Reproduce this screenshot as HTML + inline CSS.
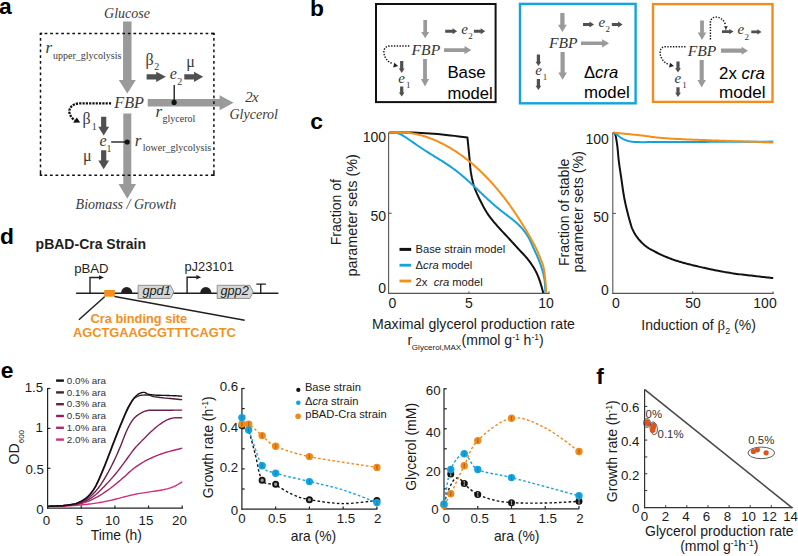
<!DOCTYPE html>
<html><head><meta charset="utf-8"><title>Figure</title>
<style>
html,body{margin:0;padding:0;background:#fff;}
body{width:798px;height:556px;overflow:hidden;}
svg{display:block;font-family:"Liberation Sans", sans-serif;}
</style></head><body>
<svg width="798" height="556" viewBox="0 0 798 556">
<rect width="798" height="556" fill="#fff"/>
<text x="-1" y="14.1" font-size="22.8" font-weight="bold" >a</text>
<text x="310" y="16.3" font-size="22.8" font-weight="bold" >b</text>
<text x="310.3" y="128.6" font-size="22.8" font-weight="bold" >c</text>
<text x="0" y="244.3" font-size="22.8" font-weight="bold" >d</text>
<text x="0.8" y="377.5" font-size="22.8" font-weight="bold" >e</text>
<text x="596.3" y="383.5" font-size="22.8" font-weight="bold" >f</text>
<polygon points="123.05,21.6 123.05,80 118.8,80 127.3,93.5 135.8,80 131.55,80 131.55,21.6" fill="#9a9a9a"/>
<polygon points="123.3,113.5 123.3,184.1 118.55,184.1 127.3,198.8 136.05,184.1 131.3,184.1 131.3,113.5" fill="#9a9a9a"/>
<polygon points="147.7,99.05 219.6,99.05 219.6,95.3 233.6,102.8 219.6,110.3 219.6,106.55 147.7,106.55" fill="#9a9a9a"/>
<path d="M40.5,33.4 H214" fill="none" stroke="#111" stroke-width="1.5" stroke-dasharray="2.75 2.8" stroke-dashoffset="1.45"/>
<path d="M40.5,175.3 H214" fill="none" stroke="#111" stroke-width="1.5" stroke-dasharray="2.75 2.8" stroke-dashoffset="1.65"/>
<path d="M40.5,33.4 V175.3" fill="none" stroke="#111" stroke-width="1.5" stroke-dasharray="2.6 3.15" stroke-dashoffset="1.1"/>
<path d="M213.9,33.4 V175.3" fill="none" stroke="#111" stroke-width="1.5" stroke-dasharray="2.6 3.15" stroke-dashoffset="1.05"/>
<path d="M39.75,33.4 H42.2 M40.5,32.65 V35 M213.9,32.65 V35 M211.5,33.4 H214.65 M39.75,175.3 H42.2 M40.5,173 V176.05 M211.5,175.3 H214.65 M213.9,173 V176.05" fill="none" stroke="#111" stroke-width="1.5"/>
<text x="104.1" y="17.9" font-size="14" font-family='"Liberation Serif", serif' fill="#3a3a3a" font-style="italic" >Glucose</text>
<text x="114.3" y="108.2" font-size="16.2" font-family='"Liberation Serif", serif' fill="#3a3a3a" font-style="italic" >FBP</text>
<text x="75.6" y="208.9" font-size="14" font-family='"Liberation Serif", serif' fill="#3a3a3a" font-style="italic" >Biomass / Growth</text>
<text x="245.3" y="102.2" font-size="14.8" font-family='"Liberation Serif", serif' fill="#3a3a3a" font-style="italic" letter-spacing="-0.6">2x</text>
<text x="229.5" y="118.5" font-size="14" font-family='"Liberation Serif", serif' fill="#3a3a3a" font-style="italic" >Glycerol</text>
<text x="45.6" y="53.4" font-size="17" font-family='"Liberation Serif", serif' fill="#3a3a3a" font-style="italic" >r</text>
<text x="53" y="59.1" font-size="10" font-family='"Liberation Serif", serif' fill="#3a3a3a" >upper_glycolysis</text>
<text x="155.4" y="116.7" font-size="17" font-family='"Liberation Serif", serif' fill="#3a3a3a" font-style="italic" >r</text>
<text x="162.6" y="122.3" font-size="10" font-family='"Liberation Serif", serif' fill="#3a3a3a" >glycerol</text>
<text x="134.7" y="145.8" font-size="17" font-family='"Liberation Serif", serif' fill="#3a3a3a" font-style="italic" >r</text>
<text x="142.8" y="150.8" font-size="10" font-family='"Liberation Serif", serif' fill="#3a3a3a" >lower_glycolysis</text>
<text x="145.6" y="64.6" font-size="16" font-family='"Liberation Serif", serif' fill="#3a3a3a" >&#946;</text>
<text x="154.3" y="69.7" font-size="10" font-family='"Liberation Serif", serif' fill="#3a3a3a" >2</text>
<polygon points="146.6,74.15 156.2,74.15 156.2,71.65 165.9,76.8 156.2,81.95 156.2,79.45 146.6,79.45" fill="#505050"/>
<text x="169.8" y="79" font-size="16" font-family='"Liberation Serif", serif' fill="#3a3a3a" font-style="italic" >e</text>
<text x="177.3" y="84.6" font-size="10" font-family='"Liberation Serif", serif' fill="#3a3a3a" >2</text>
<text x="186.3" y="66.7" font-size="16" font-family='"Liberation Serif", serif' fill="#3a3a3a" >&#956;</text>
<polygon points="184.3,74.15 194,74.15 194,71.65 203.2,76.8 194,81.95 194,79.45 184.3,79.45" fill="#505050"/>
<line x1="174.2" y1="85.1" x2="174.2" y2="102.2" stroke="#111" stroke-width="1.3" />
<circle cx="174.1" cy="102.4" r="2.6" fill="#111" stroke="none" stroke-width="0" />
<text x="82.4" y="124.4" font-size="16" font-family='"Liberation Serif", serif' fill="#3a3a3a" >&#946;</text>
<text x="91.8" y="129.5" font-size="10" font-family='"Liberation Serif", serif' fill="#3a3a3a" >1</text>
<polygon points="101.1,116.8 101.1,126.8 98.25,126.8 103.7,135.5 109.15,126.8 106.3,126.8 106.3,116.8" fill="#505050"/>
<text x="99.4" y="146.2" font-size="16" font-family='"Liberation Serif", serif' fill="#3a3a3a" font-style="italic" >e</text>
<text x="106.6" y="151.6" font-size="10" font-family='"Liberation Serif", serif' fill="#3a3a3a" >1</text>
<text x="83" y="160.5" font-size="16" font-family='"Liberation Serif", serif' fill="#3a3a3a" >&#956;</text>
<polygon points="101.1,150.2 101.1,160.6 98.25,160.6 103.7,169.3 109.15,160.6 106.3,160.6 106.3,150.2" fill="#505050"/>
<line x1="111.2" y1="142" x2="127" y2="142" stroke="#111" stroke-width="1.3" />
<circle cx="127.2" cy="142" r="2.6" fill="#111" stroke="none" stroke-width="0" />
<path d="M111.1,103.4 L79.5,103.4 C72,103.6 68.5,108.5 69.5,113 C70.3,116.5 72.5,118.8 74.8,120.2" fill="none" stroke="#111" stroke-width="2.3" stroke-dasharray="2.2 1.1"/>
<polygon points="80.2,122.6 73.2,122.8 76.8,117.6" fill="#111"/>
<rect x="376" y="4" width="119.6" height="98.1" fill="none" stroke="#111" stroke-width="2"/>
<rect x="520" y="3.9" width="115.6" height="99.4" fill="none" stroke="#12a4dc" stroke-width="2.4"/>
<rect x="653" y="4.1" width="119.5" height="97.8" fill="none" stroke="#f28c1e" stroke-width="2.4"/>
<polygon points="423.35,20 423.35,32 421.15,32 425.2,38.2 429.25,32 427.05,32 427.05,20" fill="#9a9a9a"/>
<text x="411.6" y="54.5" font-size="15.6" font-family='"Liberation Serif", serif' fill="#333333" font-style="italic" >FBP</text>
<path d="M409.3,45.9 L390,45.9 C385,46.3 383.6,49.5 383.9,52.5 C384.3,57 387,61.5 392.5,63.8" fill="none" stroke="#1a1a1a" stroke-width="1.45" stroke-dasharray="1.4 1.4"/>
<polygon points="398.2,65.9 393.2,67.6 394.2,62.8" fill="#222"/>
<polygon points="400.1,61 400.1,68.6 398.85,68.6 401.7,72.9 404.55,68.6 403.3,68.6 403.3,61" fill="#505050"/>
<text x="398.3" y="82.6" font-size="15" font-family='"Liberation Serif", serif' fill="#333333" font-style="italic" >e</text>
<text x="405.9" y="87.5" font-size="9" font-family='"Liberation Serif", serif' fill="#333333" >1</text>
<polygon points="400.1,86.4 400.1,92.6 398.85,92.6 401.7,96.6 404.55,92.6 403.3,92.6 403.3,86.4" fill="#505050"/>
<polygon points="423.1,59 423.1,79.1 420.95,79.1 425,86.6 429.05,79.1 426.9,79.1 426.9,59" fill="#9a9a9a"/>
<polygon points="444,48.2 464.5,48.2 464.5,46 471.4,50.1 464.5,54.2 464.5,52 444,52" fill="#9a9a9a"/>
<polygon points="445.2,29.8 452.6,29.8 452.6,28.3 457.1,31.3 452.6,34.3 452.6,32.8 445.2,32.8" fill="#505050"/>
<text x="461.2" y="33.8" font-size="15" font-family='"Liberation Serif", serif' fill="#333333" font-style="italic" >e</text>
<text x="468.2" y="39.2" font-size="9" font-family='"Liberation Serif", serif' fill="#333333" >2</text>
<polygon points="473.9,29.8 480.7,29.8 480.7,28.3 485.2,31.3 480.7,34.3 480.7,32.8 473.9,32.8" fill="#505050"/>
<text x="447.4" y="78" font-size="16.8" >Base</text>
<text x="447.4" y="98.5" font-size="16.6" >model</text>
<polygon points="560.25,12.9 560.25,24.8 557.95,24.8 562.4,32.1 566.85,24.8 564.55,24.8 564.55,12.9" fill="#9a9a9a"/>
<text x="548.9" y="47.5" font-size="15.6" font-family='"Liberation Serif", serif' fill="#333333" font-style="italic" >FBP</text>
<polygon points="583,23.1 589.5,23.1 589.5,21.6 594,24.6 589.5,27.6 589.5,26.1 583,26.1" fill="#505050"/>
<text x="598.6" y="27" font-size="15" font-family='"Liberation Serif", serif' fill="#333333" font-style="italic" >e</text>
<text x="605.6" y="32.4" font-size="9" font-family='"Liberation Serif", serif' fill="#333333" >2</text>
<polygon points="611.8,23.1 618.1,23.1 618.1,21.6 622.6,24.6 618.1,27.6 618.1,26.1 611.8,26.1" fill="#505050"/>
<polygon points="581,41.5 602.1,41.5 602.1,39.2 609.1,43.3 602.1,47.4 602.1,45.1 581,45.1" fill="#9a9a9a"/>
<polygon points="560.5,52 560.5,72.4 558.25,72.4 562.6,79.8 566.95,72.4 564.7,72.4 564.7,52" fill="#9a9a9a"/>
<polygon points="536.8,54.4 536.8,61.8 535.55,61.8 538.4,66.1 541.25,61.8 540,61.8 540,54.4" fill="#505050"/>
<text x="535.2" y="74.8" font-size="15" font-family='"Liberation Serif", serif' fill="#333333" font-style="italic" >e</text>
<text x="542.8" y="79.8" font-size="9" font-family='"Liberation Serif", serif' fill="#333333" >1</text>
<polygon points="536.8,79.1 536.8,85.8 535.55,85.8 538.4,90.1 541.25,85.8 540,85.8 540,79.1" fill="#505050"/>
<text x="584.0" y="78.2" font-size="16.6">&#916;<tspan font-style="italic">cra</tspan></text>
<text x="584" y="97.5" font-size="16.8" >model</text>
<polygon points="700.1,20.5 700.1,32.4 697.7,32.4 702,40 706.3,32.4 703.9,32.4 703.9,20.5" fill="#9a9a9a"/>
<text x="687.8" y="55.6" font-size="15.6" font-family='"Liberation Serif", serif' fill="#333333" font-style="italic" >FBP</text>
<path d="M685.5,46.7 L665,46.7 C660.8,47 659.8,50.5 660.2,54 C660.8,58.5 664,62.6 668.5,64.3" fill="none" stroke="#1a1a1a" stroke-width="1.45" stroke-dasharray="1.4 1.4"/>
<polygon points="674,65.9 669,67.5 670,62.8" fill="#222"/>
<path d="M710.4,39.5 L710.4,22.5 C710.6,18.5 713.5,17 716.6,17.1 C720.5,17.3 723.8,20 725.3,24.2" fill="none" stroke="#1a1a1a" stroke-width="1.45" stroke-dasharray="1.4 1.4"/>
<polygon points="723.9,26.2 727.9,26.2 725.9,29.2" fill="#222"/>
<line x1="725.9" y1="28.5" x2="725.9" y2="30.5" stroke="#333" stroke-width="0.9" />
<polygon points="722,30.3 729.3,30.3 729.3,29 733.6,31.6 729.3,34.2 729.3,32.9 722,32.9" fill="#505050"/>
<text x="737.6" y="34.3" font-size="15" font-family='"Liberation Serif", serif' fill="#333333" font-style="italic" >e</text>
<text x="744.6" y="40.2" font-size="9" font-family='"Liberation Serif", serif' fill="#333333" >2</text>
<polygon points="751.3,30.6 757.3,30.6 757.3,29.3 761.6,31.9 757.3,34.5 757.3,33.2 751.3,33.2" fill="#505050"/>
<polygon points="721,48.55 741.6,48.55 741.6,46.65 748,50.7 741.6,54.75 741.6,52.85 721,52.85" fill="#9a9a9a"/>
<polygon points="699.65,59.9 699.65,79.9 697.45,79.9 701.7,87.6 705.95,79.9 703.75,79.9 703.75,59.9" fill="#9a9a9a"/>
<polygon points="676.4,61.5 676.4,68.3 675.15,68.3 678,72.6 680.85,68.3 679.6,68.3 679.6,61.5" fill="#505050"/>
<text x="674.6" y="82.7" font-size="15" font-family='"Liberation Serif", serif' fill="#333333" font-style="italic" >e</text>
<text x="682.2" y="87.7" font-size="9" font-family='"Liberation Serif", serif' fill="#333333" >1</text>
<polygon points="676.4,87.2 676.4,92.7 675.15,92.7 678,97 680.85,92.7 679.6,92.7 679.6,87.2" fill="#505050"/>
<text x="719.1" y="78.6" font-size="16.8">2x <tspan font-style="italic">cra</tspan></text>
<text x="719.1" y="98.3" font-size="17.1" >model</text>
<line x1="388.6" y1="132.4" x2="388.6" y2="293.9" stroke="#555555" stroke-width="1.1" />
<line x1="388.1" y1="293.4" x2="549.4" y2="293.4" stroke="#555555" stroke-width="1.1" />
<line x1="388.6" y1="132.9" x2="391.6" y2="132.9" stroke="#555555" stroke-width="1.1" />
<line x1="388.6" y1="213.3" x2="391.6" y2="213.3" stroke="#555555" stroke-width="1.1" />
<line x1="468.9" y1="293.4" x2="468.9" y2="291.4" stroke="#555555" stroke-width="1.1" />
<line x1="549" y1="293.4" x2="549" y2="291.4" stroke="#555555" stroke-width="1.1" />
<text x="386" y="142.4" font-size="14" fill="#1a1a1a" text-anchor="end" >100</text>
<text x="386" y="220.5" font-size="14" fill="#1a1a1a" text-anchor="end" >50</text>
<text x="386" y="293.3" font-size="14" fill="#1a1a1a" text-anchor="end" >0</text>
<text x="392.3" y="307.7" font-size="14" fill="#1a1a1a" text-anchor="middle" >0</text>
<text x="468.8" y="307.6" font-size="14" fill="#1a1a1a" text-anchor="middle" >5</text>
<text x="546.1" y="307.6" font-size="14" fill="#1a1a1a" text-anchor="middle" >10</text>
<text transform="translate(341,212.2) rotate(-90)" font-size="14" fill="#1a1a1a" text-anchor="middle">Fraction of</text>
<text transform="translate(356.5,215.3) rotate(-90)" font-size="14.4" fill="#1a1a1a" text-anchor="middle">parameter sets (%)</text>
<text x="372" y="328.6" font-size="14.1" fill="#1a1a1a" >Maximal glycerol production rate</text>
<text x="407.6" y="345.2" font-size="14" fill="#1a1a1a" >r</text>
<text x="411.8" y="349.7" font-size="8.1" fill="#1a1a1a" >Glycerol,MAX</text>
<text x="461.6" y="345.2" font-size="14" fill="#1a1a1a">(mmol g<tspan font-size="8.5" dy="-5">-1</tspan><tspan dy="5"> h</tspan><tspan font-size="8.5" dy="-5">-1</tspan><tspan dy="5">)</tspan></text>
<path d="M389,132.6 L393.76,132.59 L398.54,132.56 L403.33,132.53 L408.09,132.53 L412.79,132.57 L417.4,132.7 L421.6,132.89 L425.72,133.14 L429.79,133.43 L433.84,133.76 L437.9,134.12 L442,134.5 L446.21,134.92 L450.44,135.39 L454.68,135.88 L458.92,136.39 L463.16,136.9 L467.4,137.4 L467.4,137.4 L467.55,138.82 L467.7,140.23 L467.85,141.63 L468,143.05 L468.15,144.5 L468.3,146 L468.48,147.74 L468.65,149.52 L468.83,151.34 L469.01,153.2 L469.2,155.12 L469.4,157.1 L469.63,159.6 L469.84,162.23 L470.06,164.95 L470.31,167.68 L470.62,170.38 L471,173 L471.42,175.4 L471.87,177.76 L472.37,180.09 L472.94,182.4 L473.58,184.7 L474.3,187 L475.15,189.37 L476.1,191.72 L477.13,194.06 L478.22,196.39 L479.35,198.7 L480.5,201 L481.68,203.32 L482.89,205.64 L484.14,207.94 L485.44,210.21 L486.79,212.44 L488.2,214.6 L489.66,216.66 L491.19,218.67 L492.78,220.64 L494.39,222.57 L496,224.45 L497.6,226.3 L499.06,227.96 L500.52,229.55 L501.97,231.1 L503.45,232.65 L504.95,234.24 L506.5,235.9 L508.34,237.91 L510.26,240 L512.21,242.14 L514.17,244.29 L516.11,246.43 L518,248.5 L519.75,250.38 L521.51,252.23 L523.24,254.06 L524.94,255.89 L526.57,257.73 L528.1,259.6 L529.45,261.37 L530.75,263.16 L532,264.96 L533.17,266.77 L534.28,268.59 L535.3,270.4 L536.15,272.04 L536.93,273.68 L537.64,275.31 L538.31,276.96 L538.96,278.65 L539.6,280.4 L540.28,282.39 L540.91,284.45 L541.52,286.55 L542.11,288.67 L542.7,290.8 L543.3,292.9" fill="none" stroke="#111111" stroke-width="2" stroke-linejoin="round"/>
<path d="M389,132.6 L389.75,132.59 L390.5,132.58 L391.25,132.57 L392,132.6 L392.75,132.67 L393.5,132.76 L394.25,132.87 L395,132.96 L395.75,133.01 L396.51,133.03 L397.26,133.09 L398,133.22 L398.76,133.47 L399.51,133.81 L400.26,134.19 L401,134.58 L401.76,134.98 L402.51,135.4 L403.26,135.84 L404,136.28 L404.75,136.75 L405.5,137.23 L406.25,137.71 L407,138.21 L407.75,138.71 L408.5,139.22 L409.25,139.74 L410,140.25 L410.75,140.78 L411.5,141.3 L412.25,141.83 L413,142.35 L413.75,142.88 L414.5,143.41 L415.25,143.93 L416,144.45 L416.75,144.97 L417.5,145.49 L418.25,146.01 L419,146.52 L419.75,147.03 L420.5,147.54 L421.25,148.04 L422,148.54 L422.75,149.03 L423.5,149.52 L424.25,150.01 L425,150.5 L425.75,150.98 L426.5,151.46 L427.25,151.93 L428,152.41 L428.75,152.87 L429.5,153.34 L430.25,153.81 L431,154.27 L431.75,154.73 L432.5,155.19 L433.25,155.65 L434,156.11 L434.75,156.57 L435.5,157.02 L436.25,157.48 L437,157.94 L437.75,158.4 L438.5,158.86 L439.25,159.32 L440,159.78 L440.75,160.25 L441.5,160.72 L442.25,161.19 L443,161.66 L443.75,162.14 L444.5,162.63 L445.25,163.11 L446,163.6 L446.75,164.1 L447.5,164.6 L448.25,165.11 L449,165.62 L449.75,166.13 L450.5,166.66 L451.25,167.18 L452,167.72 L452.75,168.26 L453.5,168.81 L454.25,169.36 L455,169.92 L455.75,170.49 L456.5,171.07 L457.25,171.65 L458,172.23 L458.75,172.83 L459.5,173.43 L460.25,174.04 L461,174.65 L461.75,175.28 L462.5,175.91 L463.25,176.54 L464,177.18 L464.75,177.83 L465.5,178.48 L466.25,179.14 L467,179.81 L467.75,180.48 L468.5,181.15 L469.25,181.83 L470,182.52 L470.75,183.21 L471.5,183.9 L472.25,184.6 L473,185.3 L473.75,186 L474.5,186.71 L475.25,187.42 L476,188.13 L476.75,188.84 L477.5,189.56 L478.25,190.27 L479,190.99 L479.75,191.71 L480.5,192.42 L481.25,193.14 L482,193.85 L482.75,194.56 L483.5,195.27 L484.25,195.98 L485,196.69 L485.75,197.39 L486.5,198.09 L487.25,198.79 L488,199.49 L488.75,200.17 L489.5,200.86 L490.25,201.54 L491,202.21 L491.75,202.88 L492.5,203.54 L493.25,204.2 L494,204.86 L494.75,205.5 L495.5,206.14 L496.25,206.77 L497,207.4 L497.75,208.02 L498.5,208.64 L499.25,209.25 L500,209.86 L500.75,210.46 L501.5,211.05 L502.25,211.64 L503,212.22 L503.75,212.8 L504.5,213.38 L505.25,213.95 L506,214.53 L506.75,215.1 L507.5,215.67 L508.25,216.24 L509,216.81 L509.75,217.38 L510.5,217.96 L511.25,218.54 L512,219.12 L512.75,219.72 L513.51,220.32 L514.25,220.93 L515,221.55 L515.76,222.2 L516.51,222.85 L517.26,223.52 L518,224.21 L518.76,224.93 L519.51,225.68 L520.26,226.44 L521,227.22 L521.76,228.07 L522.52,228.94 L523.27,229.84 L524,230.77 L524.77,231.79 L525.52,232.84 L526.27,233.93 L527,235.06 L527.76,236.29 L528.5,237.54 L529.24,238.87 L530,240.33 L531.08,242.55 L532.2,245.03 L533.32,247.57 L534.4,250 L535.34,252.05 L536.26,254.04 L537.15,256.01 L538,258 L538.8,259.99 L539.57,261.99 L540.3,263.99 L541,266 L541.66,267.99 L542.3,269.99 L542.88,271.99 L543.4,274 L543.84,275.96 L544.21,277.91 L544.53,279.9 L544.8,282 L545.03,284.62 L545.17,287.39 L545.28,290.21 L545.4,293" fill="none" stroke="#13a2dc" stroke-width="2" stroke-linejoin="round"/>
<path d="M389,132.6 L389.75,132.6 L390.5,132.6 L391.25,132.6 L392,132.6 L392.75,132.6 L393.5,132.6 L394.25,132.6 L395,132.6 L395.75,132.6 L396.5,132.6 L397.25,132.6 L398,132.6 L398.75,132.61 L399.5,132.62 L400.25,132.63 L401,132.65 L401.75,132.69 L402.5,132.74 L403.25,132.78 L404,132.8 L404.75,132.77 L405.5,132.7 L406.25,132.65 L407,132.64 L407.75,132.69 L408.5,132.79 L409.25,132.91 L410,133.02 L410.75,133.14 L411.5,133.26 L412.25,133.38 L413,133.52 L413.75,133.66 L414.5,133.8 L415.25,133.95 L416,134.11 L416.75,134.28 L417.5,134.45 L418.25,134.63 L419,134.81 L419.75,135 L420.5,135.2 L421.25,135.4 L422,135.61 L422.75,135.83 L423.5,136.05 L424.25,136.28 L425,136.51 L425.75,136.76 L426.5,137 L427.25,137.26 L428,137.52 L428.75,137.78 L429.5,138.05 L430.25,138.33 L431,138.62 L431.75,138.91 L432.5,139.2 L433.25,139.51 L434,139.81 L434.75,140.13 L435.5,140.45 L436.25,140.78 L437,141.11 L437.75,141.45 L438.5,141.8 L439.25,142.15 L440,142.51 L440.75,142.87 L441.5,143.24 L442.25,143.62 L443,144 L443.75,144.39 L444.5,144.78 L445.25,145.18 L446,145.59 L446.75,146 L447.5,146.42 L448.25,146.85 L449,147.28 L449.75,147.72 L450.5,148.16 L451.25,148.61 L452,149.07 L452.75,149.53 L453.5,150 L454.25,150.48 L455,150.96 L455.75,151.45 L456.5,151.94 L457.25,152.44 L458,152.95 L458.75,153.46 L459.5,153.98 L460.25,154.51 L461,155.04 L461.75,155.58 L462.5,156.13 L463.25,156.68 L464,157.23 L464.75,157.8 L465.5,158.37 L466.25,158.95 L467,159.54 L467.75,160.13 L468.5,160.73 L469.25,161.33 L470,161.95 L470.75,162.57 L471.5,163.19 L472.25,163.83 L473,164.46 L473.75,165.11 L474.5,165.77 L475.25,166.43 L476,167.09 L476.75,167.77 L477.5,168.45 L478.25,169.14 L479,169.84 L479.75,170.54 L480.5,171.25 L481.25,171.97 L482,172.7 L482.75,173.43 L483.5,174.17 L484.25,174.92 L485,175.67 L485.75,176.44 L486.5,177.21 L487.25,177.99 L488,178.77 L488.75,179.57 L489.5,180.38 L490.25,181.18 L491,182 L491.75,182.83 L492.5,183.66 L493.25,184.51 L494,185.35 L494.75,186.22 L495.5,187.08 L496.25,187.96 L497,188.84 L497.75,189.74 L498.5,190.64 L499.25,191.55 L500,192.46 L500.75,193.39 L501.5,194.33 L502.25,195.27 L503,196.22 L503.75,197.19 L504.5,198.16 L505.25,199.14 L506,200.13 L506.75,201.13 L507.5,202.14 L508.25,203.16 L509,204.18 L509.75,205.22 L510.5,206.27 L511.25,207.32 L512,208.39 L512.75,209.47 L513.5,210.55 L514.25,211.65 L515,212.75 L515.75,213.87 L516.5,215 L517.25,216.13 L518,217.27 L518.75,218.43 L519.5,219.6 L520.25,220.78 L521,221.96 L521.75,223.17 L522.5,224.38 L523.25,225.6 L524,226.83 L524.75,228.08 L525.5,229.33 L526.25,230.6 L527,231.87 L527.75,233.16 L528.51,234.47 L529.25,235.78 L530,237.09 L530.75,238.44 L531.51,239.79 L532.25,241.14 L533,242.51 L533.75,243.87 L534.5,245.23 L535.25,246.62 L536,248.12 L536.9,250.07 L537.81,252.16 L538.71,254.32 L539.6,256.5 L540.56,258.79 L541.52,261.12 L542.43,263.51 L543.2,266 L543.85,268.92 L544.35,272 L544.75,275.08 L545.1,278 L545.37,280.38 L545.59,282.69 L545.76,284.91 L545.9,287 L545.98,288.58 L546.03,290.07 L546.06,291.53 L546.1,293" fill="none" stroke="#f39019" stroke-width="2" stroke-linejoin="round"/>
<line x1="399.5" y1="249.4" x2="411.2" y2="249.4" stroke="#111111" stroke-width="3" />
<line x1="399.5" y1="265.2" x2="411.2" y2="265.2" stroke="#13a2dc" stroke-width="2.8" />
<line x1="399.5" y1="281" x2="411.2" y2="281" stroke="#f39019" stroke-width="2.8" />
<text x="415.6" y="252.6" font-size="11.2" fill="#1a1a1a" >Base strain model</text>
<text x="415.6" y="269.2" font-size="11.2" fill="#1a1a1a">&#916;<tspan font-style="italic">cra</tspan> model</text>
<text x="415.6" y="285.9" font-size="11.2" fill="#1a1a1a">2x&#160; <tspan font-style="italic">cra</tspan> model</text>
<line x1="612.8" y1="132.4" x2="612.8" y2="293.9" stroke="#555555" stroke-width="1.1" />
<line x1="612.3" y1="293.4" x2="773.6" y2="293.4" stroke="#555555" stroke-width="1.1" />
<line x1="612.8" y1="132.9" x2="615.8" y2="132.9" stroke="#555555" stroke-width="1.1" />
<line x1="612.8" y1="213.4" x2="615.8" y2="213.4" stroke="#555555" stroke-width="1.1" />
<line x1="692.6" y1="293.4" x2="692.6" y2="291.4" stroke="#555555" stroke-width="1.1" />
<line x1="773.1" y1="293.4" x2="773.1" y2="291.4" stroke="#555555" stroke-width="1.1" />
<text x="608.8" y="143.8" font-size="14" fill="#1a1a1a" text-anchor="end" >100</text>
<text x="608.8" y="221.8" font-size="14" fill="#1a1a1a" text-anchor="end" >50</text>
<text x="608.8" y="294.8" font-size="14" fill="#1a1a1a" text-anchor="end" >0</text>
<text x="616" y="308.2" font-size="14" fill="#1a1a1a" text-anchor="middle" >0</text>
<text x="693" y="308.2" font-size="14" fill="#1a1a1a" text-anchor="middle" >50</text>
<text x="765" y="308.2" font-size="14" fill="#1a1a1a" text-anchor="middle" >100</text>
<text transform="translate(568.8,212.4) rotate(-90)" font-size="14" fill="#1a1a1a" text-anchor="middle">Fraction of stable</text>
<text transform="translate(583.4,211.7) rotate(-90)" font-size="14.3" fill="#1a1a1a" text-anchor="middle">parameter sets (%)</text>
<text x="641.3" y="329.7" font-size="14" fill="#1a1a1a">Induction of <tspan font-family='"Liberation Serif", serif' font-size="15">&#946;</tspan><tspan font-size="9" dy="4">2</tspan><tspan dy="-4"> (%)</tspan></text>
<path d="M613.4,132.6 L613.52,132.67 L613.64,132.73 L613.76,132.78 L613.88,132.83 L614,132.88 L614.12,132.93 L614.24,132.99 L614.35,133.06 L614.47,133.14 L614.58,133.24 L614.69,133.36 L614.8,133.5 L615.06,133.97 L615.3,134.58 L615.53,135.32 L615.74,136.15 L615.94,137.08 L616.12,138.07 L616.3,139.12 L616.47,140.19 L616.63,141.29 L616.79,142.39 L616.94,143.46 L617.1,144.5 L617.28,145.76 L617.45,147.06 L617.59,148.41 L617.73,149.78 L617.86,151.17 L617.98,152.59 L618.1,154.01 L618.23,155.44 L618.35,156.87 L618.49,158.3 L618.64,159.71 L618.8,161.1 L618.97,162.47 L619.15,163.83 L619.34,165.18 L619.53,166.53 L619.73,167.87 L619.93,169.22 L620.13,170.57 L620.34,171.94 L620.55,173.32 L620.77,174.72 L620.98,176.15 L621.2,177.6 L621.45,179.3 L621.7,181.04 L621.94,182.81 L622.19,184.61 L622.44,186.43 L622.7,188.26 L622.97,190.1 L623.25,191.94 L623.54,193.78 L623.84,195.6 L624.16,197.41 L624.5,199.2 L624.86,200.97 L625.24,202.77 L625.64,204.6 L626.05,206.43 L626.48,208.25 L626.91,210.06 L627.35,211.85 L627.8,213.59 L628.23,215.27 L628.67,216.9 L629.09,218.44 L629.5,219.9 L629.77,220.87 L630.04,221.8 L630.29,222.7 L630.54,223.57 L630.79,224.41 L631.04,225.23 L631.29,226.03 L631.56,226.81 L631.84,227.59 L632.14,228.36 L632.46,229.13 L632.8,229.9 L633.15,230.63 L633.5,231.35 L633.87,232.06 L634.24,232.76 L634.63,233.44 L635.04,234.12 L635.46,234.8 L635.89,235.46 L636.34,236.13 L636.81,236.79 L637.29,237.44 L637.8,238.1 L638.38,238.83 L638.99,239.55 L639.61,240.28 L640.26,241 L640.93,241.72 L641.62,242.43 L642.32,243.13 L643.04,243.81 L643.78,244.49 L644.54,245.14 L645.31,245.78 L646.1,246.4 L646.96,247.03 L647.84,247.64 L648.75,248.24 L649.68,248.81 L650.64,249.36 L651.6,249.91 L652.58,250.44 L653.58,250.96 L654.58,251.48 L655.58,251.99 L656.59,252.49 L657.6,253 L658.66,253.53 L659.74,254.05 L660.83,254.56 L661.93,255.07 L663.04,255.57 L664.16,256.07 L665.28,256.55 L666.4,257.02 L667.53,257.48 L668.66,257.93 L669.78,258.37 L670.9,258.8 L671.99,259.2 L673.08,259.59 L674.17,259.97 L675.26,260.33 L676.35,260.69 L677.44,261.04 L678.54,261.37 L679.64,261.71 L680.74,262.03 L681.85,262.36 L682.97,262.68 L684.1,263 L685.28,263.33 L686.48,263.65 L687.69,263.97 L688.9,264.28 L690.12,264.58 L691.35,264.88 L692.57,265.18 L693.79,265.47 L695.01,265.76 L696.22,266.04 L697.42,266.32 L698.6,266.6 L699.7,266.86 L700.77,267.11 L701.82,267.36 L702.86,267.6 L703.89,267.84 L704.93,268.07 L705.98,268.31 L707.04,268.54 L708.13,268.78 L709.25,269.02 L710.4,269.26 L711.6,269.5 L713.21,269.82 L714.88,270.15 L716.61,270.49 L718.39,270.83 L720.21,271.18 L722.05,271.52 L723.92,271.86 L725.79,272.19 L727.67,272.51 L729.53,272.82 L731.38,273.12 L733.2,273.4 L735,273.66 L736.8,273.91 L738.61,274.15 L740.42,274.37 L742.24,274.59 L744.05,274.8 L745.85,275.01 L747.65,275.21 L749.44,275.4 L751.21,275.6 L752.96,275.8 L754.7,276 L756.29,276.19 L757.86,276.37 L759.42,276.55 L760.97,276.72 L762.51,276.9 L764.04,277.07 L765.56,277.24 L767.08,277.41 L768.61,277.58 L770.13,277.75 L771.66,277.93 L773.2,278.1" fill="none" stroke="#111111" stroke-width="2" stroke-linejoin="round"/>
<path d="M613.4,132.6 L613.66,132.73 L613.91,132.85 L614.17,132.98 L614.42,133.09 L614.67,133.21 L614.92,133.33 L615.18,133.46 L615.44,133.59 L615.7,133.73 L615.96,133.87 L616.23,134.03 L616.5,134.2 L616.86,134.45 L617.23,134.72 L617.59,135.02 L617.97,135.33 L618.34,135.66 L618.72,136 L619.11,136.33 L619.51,136.67 L619.92,137 L620.33,137.32 L620.76,137.62 L621.2,137.9 L621.7,138.2 L622.23,138.49 L622.77,138.78 L623.33,139.06 L623.9,139.33 L624.47,139.6 L625.05,139.85 L625.63,140.09 L626.21,140.32 L626.78,140.53 L627.35,140.72 L627.9,140.9 L628.37,141.04 L628.81,141.16 L629.24,141.27 L629.66,141.37 L630.08,141.46 L630.5,141.54 L630.94,141.61 L631.39,141.67 L631.88,141.73 L632.41,141.79 L632.98,141.84 L633.6,141.9 L635.1,142.01 L636.82,142.08 L638.71,142.12 L640.76,142.14 L642.95,142.15 L645.25,142.13 L647.63,142.11 L650.08,142.08 L652.56,142.05 L655.06,142.02 L657.55,142.01 L660,142 L663.01,142 L666.05,142 L669.14,141.99 L672.28,141.99 L675.47,141.98 L678.73,141.97 L682.06,141.96 L685.47,141.95 L688.96,141.94 L692.54,141.93 L696.22,141.91 L700,141.9 L705.33,141.88 L710.93,141.86 L716.76,141.84 L722.77,141.81 L728.94,141.79 L735.23,141.76 L741.59,141.73 L747.99,141.71 L754.39,141.68 L760.75,141.65 L767.03,141.63 L773.2,141.6" fill="none" stroke="#13a2dc" stroke-width="2" stroke-linejoin="round"/>
<path d="M613.4,132.6 L613.94,132.66 L614.46,132.71 L614.96,132.77 L615.46,132.82 L615.96,132.87 L616.47,132.93 L616.99,132.98 L617.52,133.04 L618.09,133.1 L618.68,133.16 L619.32,133.23 L620,133.3 L621.35,133.44 L622.86,133.58 L624.5,133.74 L626.25,133.9 L628.08,134.08 L629.97,134.26 L631.89,134.44 L633.82,134.63 L635.73,134.82 L637.6,135.01 L639.4,135.21 L641.1,135.4 L642.55,135.58 L643.97,135.76 L645.37,135.95 L646.75,136.15 L648.12,136.34 L649.47,136.54 L650.82,136.74 L652.17,136.93 L653.52,137.11 L654.87,137.29 L656.23,137.45 L657.6,137.6 L658.97,137.74 L660.32,137.86 L661.66,137.98 L662.99,138.08 L664.32,138.19 L665.66,138.28 L667.02,138.37 L668.39,138.46 L669.79,138.54 L671.22,138.63 L672.69,138.71 L674.2,138.8 L676.14,138.91 L678.15,139.01 L680.2,139.11 L682.31,139.2 L684.45,139.29 L686.62,139.38 L688.82,139.47 L691.05,139.56 L693.28,139.64 L695.52,139.73 L697.76,139.81 L700,139.9 L702.43,140 L704.92,140.09 L707.44,140.19 L709.98,140.29 L712.54,140.38 L715.11,140.48 L717.67,140.57 L720.22,140.66 L722.73,140.75 L725.21,140.84 L727.63,140.92 L730,141 L732.02,141.07 L734.01,141.13 L735.97,141.19 L737.91,141.24 L739.83,141.3 L741.73,141.35 L743.61,141.4 L745.48,141.46 L747.34,141.51 L749.2,141.57 L751.05,141.63 L752.9,141.7 L754.63,141.77 L756.35,141.84 L758.06,141.91 L759.76,141.98 L761.45,142.06 L763.13,142.14 L764.8,142.21 L766.48,142.29 L768.15,142.37 L769.83,142.45 L771.51,142.52 L773.2,142.6" fill="none" stroke="#f39019" stroke-width="2" stroke-linejoin="round"/>
<text x="35.6" y="248.5" font-size="14" fill="#231f20" font-weight="bold" >pBAD-Cra Strain</text>
<text x="74.2" y="272.8" font-size="13.2" fill="#231f20" >pBAD</text>
<text x="184.4" y="271" font-size="12.9" fill="#231f20" >pJ23101</text>
<line x1="76.1" y1="293.2" x2="278.4" y2="293.2" stroke="#231f20" stroke-width="1.5" />
<path d="M90,293.2 L90,277.5 L99.5,277.5" fill="none" stroke="#231f20" stroke-width="1.4" />
<polygon points="99,275.2 103.9,277.5 99,279.8" fill="#231f20"/>
<path d="M187.1,293.2 L187.1,277.3 L196.8,277.3" fill="none" stroke="#231f20" stroke-width="1.4" />
<polygon points="196.3,275 201.2,277.3 196.3,279.6" fill="#231f20"/>
<path d="M121.1,293 A5.6,5.9 0 0 1 132.3,293 Z" fill="#231f20"/>
<path d="M200.2,293 A5.6,5.9 0 0 1 211.4,293 Z" fill="#231f20"/>
<polygon points="138.1,285.3 170.6,285.3 173.8,291.9 170.6,298.5 138.1,298.5" fill="#d5d5d5" stroke="#8a8a8a" stroke-width="0.9"/>
<polygon points="217.2,285.3 249.8,285.3 253.2,291.9 249.8,298.5 217.2,298.5" fill="#d5d5d5" stroke="#8a8a8a" stroke-width="0.9"/>
<text x="142.4" y="295" font-size="12.8" fill="#231f20" font-style="italic" >gpd1</text>
<text x="220.4" y="295" font-size="12.8" fill="#231f20" font-style="italic" >gpp2</text>
<path d="M260.7,293.2 L260.7,284.1 M256.3,284.1 L265.9,284.1" fill="none" stroke="#231f20" stroke-width="1.4" />
<rect x="104.2" y="290" width="10.7" height="6.7" fill="#f5901c"/>
<line x1="104.6" y1="296.8" x2="78.9" y2="319.8" stroke="#231f20" stroke-width="1.5" />
<line x1="114.6" y1="296.6" x2="244.7" y2="320.2" stroke="#231f20" stroke-width="1.5" />
<text x="90.5" y="322.8" font-size="12.8" fill="#f5901c" font-weight="bold" >Cra binding site</text>
<text x="73" y="337.2" font-size="12.8" fill="#f5901c" font-weight="bold" >AGCTGAAGCGTTTCAGTC</text>
<line x1="47.6" y1="388" x2="47.6" y2="508.8" stroke="#222222" stroke-width="1.2" />
<line x1="47" y1="508.2" x2="182.8" y2="508.2" stroke="#222222" stroke-width="1.2" />
<line x1="47.6" y1="388.5" x2="50.4" y2="388.5" stroke="#222222" stroke-width="1.2" />
<line x1="47.6" y1="428.4" x2="50.4" y2="428.4" stroke="#222222" stroke-width="1.2" />
<line x1="47.6" y1="468.3" x2="50.4" y2="468.3" stroke="#222222" stroke-width="1.2" />
<line x1="81.25" y1="508.2" x2="81.25" y2="505.6" stroke="#222222" stroke-width="1.2" />
<line x1="114.9" y1="508.2" x2="114.9" y2="505.6" stroke="#222222" stroke-width="1.2" />
<line x1="148.55" y1="508.2" x2="148.55" y2="505.6" stroke="#222222" stroke-width="1.2" />
<line x1="182.2" y1="508.2" x2="182.2" y2="505.6" stroke="#222222" stroke-width="1.2" />
<text x="43.2" y="392.3" font-size="13.3" fill="#1a1a1a" text-anchor="end" >1.5</text>
<text x="43" y="432.3" font-size="13.3" fill="#1a1a1a" text-anchor="end" >1</text>
<text x="43.9" y="473.9" font-size="13.3" fill="#1a1a1a" text-anchor="end" >0.5</text>
<text x="43.6" y="514.2" font-size="13.3" fill="#1a1a1a" text-anchor="end" >0</text>
<text x="46.5" y="524.7" font-size="13.3" fill="#1a1a1a" text-anchor="middle" >0</text>
<text x="79.5" y="524.7" font-size="13.3" fill="#1a1a1a" text-anchor="middle" >5</text>
<text x="112.5" y="524.7" font-size="13.3" fill="#1a1a1a" text-anchor="middle" >10</text>
<text x="146" y="524.7" font-size="13.3" fill="#1a1a1a" text-anchor="middle" >15</text>
<text x="179.5" y="524.7" font-size="13.3" fill="#1a1a1a" text-anchor="middle" >20</text>
<text x="90.7" y="540.3" font-size="13.9" fill="#1a1a1a" >Time (h)</text>
<text transform="translate(19.4,464.6) rotate(-90)" font-size="14.2" fill="#1a1a1a">OD<tspan font-size="8" dy="4.6">600</tspan></text>
<path d="M47.6,506.44 L49.28,506.41 L50.97,506.37 L52.65,506.33 L54.33,506.3 L56.01,506.26 L57.7,506.22 L59.38,506.18 L61.06,506.13 L62.74,506.07 L64.43,506 L66.11,505.93 L67.79,505.86 L69.47,505.77 L71.16,505.68 L72.84,505.59 L74.52,505.49 L75.36,505.43 L76.2,505.37 L77.04,505.3 L77.89,505.23 L78.73,505.16 L79.57,505.09 L80.41,505.01 L81.25,504.93 L82.89,504.77 L84.53,504.6 L86.17,504.43 L87.81,504.25 L89.45,504.05 L91.09,503.85 L92.73,503.64 L94.37,503.41 L96.17,503.15 L97.97,502.86 L99.77,502.55 L101.57,502.22 L103.37,501.88 L105.18,501.52 L106.98,501.15 L108.78,500.78 L110.58,500.38 L112.38,499.96 L114.18,499.51 L115.98,499.04 L117.78,498.57 L119.58,498.1 L121.38,497.64 L123.18,497.19 L124.84,496.77 L126.49,496.35 L128.15,495.92 L129.81,495.5 L131.46,495.09 L133.12,494.7 L134.78,494.33 L136.44,494 L138.14,493.68 L139.83,493.39 L141.53,493.12 L143.23,492.86 L144.93,492.6 L146.63,492.35 L148.33,492.1 L150.03,491.84 L151.53,491.61 L153.03,491.4 L154.52,491.19 L156.02,490.97 L157.52,490.76 L159.02,490.52 L160.51,490.28 L162.01,490.01 L162.85,489.84 L163.69,489.67 L164.53,489.49 L165.38,489.29 L166.22,489.09 L167.06,488.88 L167.9,488.65 L168.74,488.41 L169.58,488.15 L170.42,487.88 L171.26,487.59 L172.11,487.28 L172.95,486.95 L173.79,486.6 L174.63,486.24 L175.47,485.86 L176.31,485.44 L177.15,484.98 L177.99,484.49 L178.84,483.97 L179.68,483.44 L180.52,482.9 L181.36,482.38 L182.2,481.87" fill="none" stroke="#d2307f" stroke-width="1.4" stroke-linejoin="round"/>
<path d="M47.6,506.44 L49.28,506.39 L50.97,506.33 L52.65,506.28 L54.33,506.23 L56.01,506.17 L57.7,506.11 L59.38,506.04 L61.06,505.97 L62.74,505.88 L64.43,505.77 L66.11,505.66 L67.79,505.53 L69.47,505.38 L71.16,505.22 L72.84,505.04 L74.52,504.85 L75.36,504.74 L76.2,504.61 L77.04,504.47 L77.89,504.32 L78.73,504.15 L79.57,503.97 L80.41,503.77 L81.25,503.57 L82.93,503.11 L84.62,502.57 L86.3,501.97 L87.98,501.3 L89.66,500.58 L91.34,499.82 L93.03,499.03 L94.71,498.22 L96.47,497.33 L98.23,496.36 L99.98,495.32 L101.74,494.22 L103.5,493.08 L105.26,491.89 L107.02,490.68 L108.78,489.45 L110.42,488.26 L112.07,487.01 L113.72,485.71 L115.37,484.38 L117.02,483.01 L118.67,481.63 L120.32,480.23 L121.97,478.83 L123.32,477.65 L124.68,476.42 L126.03,475.16 L127.38,473.89 L128.74,472.64 L130.09,471.42 L131.45,470.26 L132.8,469.18 L134.32,468.04 L135.85,466.93 L137.37,465.87 L138.89,464.84 L140.42,463.85 L141.94,462.9 L143.46,461.99 L144.98,461.12 L145.68,460.73 L146.38,460.36 L147.08,459.99 L147.78,459.64 L148.47,459.3 L149.17,458.96 L149.87,458.64 L150.57,458.32 L152.44,457.5 L154.32,456.69 L156.2,455.91 L158.07,455.16 L159.95,454.44 L161.82,453.75 L163.7,453.11 L165.58,452.5 L167.65,451.88 L169.73,451.3 L171.81,450.76 L173.89,450.24 L175.97,449.73 L178.04,449.23 L180.12,448.72 L182.2,448.19" fill="none" stroke="#b0286d" stroke-width="1.4" stroke-linejoin="round"/>
<path d="M47.6,506.44 L49.28,506.37 L50.97,506.3 L52.65,506.23 L54.33,506.16 L56.01,506.08 L57.7,506 L59.38,505.91 L61.06,505.81 L62.74,505.69 L64.43,505.55 L66.11,505.4 L67.79,505.24 L69.47,505.05 L71.16,504.84 L72.84,504.62 L74.52,504.37 L75.36,504.23 L76.2,504.07 L77.04,503.9 L77.89,503.7 L78.73,503.49 L79.57,503.27 L80.41,503.03 L81.25,502.77 L82.09,502.5 L82.93,502.19 L83.77,501.85 L84.62,501.48 L85.46,501.09 L86.3,500.68 L87.14,500.26 L87.98,499.82 L88.82,499.36 L89.66,498.88 L90.5,498.37 L91.34,497.83 L92.19,497.26 L93.03,496.68 L93.87,496.06 L94.71,495.43 L95.87,494.5 L97.03,493.5 L98.19,492.44 L99.35,491.33 L100.51,490.19 L101.68,489.02 L102.84,487.84 L104,486.65 L105.36,485.26 L106.72,483.84 L108.09,482.39 L109.45,480.91 L110.81,479.4 L112.17,477.86 L113.54,476.29 L114.9,474.68 L116.13,473.19 L117.36,471.65 L118.58,470.07 L119.81,468.47 L121.04,466.84 L122.27,465.2 L123.5,463.55 L124.73,461.92 L125.96,460.24 L127.2,458.52 L128.44,456.78 L129.67,455.03 L130.91,453.3 L132.15,451.63 L133.38,450.02 L134.62,448.51 L135.91,447.02 L137.21,445.61 L138.51,444.24 L139.8,442.92 L141.1,441.62 L142.39,440.34 L143.69,439.05 L144.98,437.74 L145.6,437.11 L146.21,436.47 L146.83,435.84 L147.44,435.21 L148.05,434.58 L148.67,433.97 L149.28,433.37 L149.9,432.79 L151.18,431.6 L152.47,430.41 L153.76,429.25 L155.04,428.12 L156.33,427.02 L157.62,425.98 L158.91,425 L160.19,424.09 L161.26,423.37 L162.33,422.65 L163.4,421.95 L164.47,421.28 L165.53,420.66 L166.6,420.11 L167.67,419.62 L168.74,419.22 L169.5,418.97 L170.25,418.73 L171.01,418.49 L171.77,418.27 L172.53,418.09 L173.28,417.94 L174.04,417.83 L174.8,417.79 L175.72,417.77 L176.65,417.76 L177.57,417.75 L178.5,417.74 L179.42,417.73 L180.35,417.72 L181.27,417.72 L182.2,417.71" fill="none" stroke="#8c2259" stroke-width="1.4" stroke-linejoin="round"/>
<path d="M47.6,506.44 L49.28,506.37 L50.97,506.3 L52.65,506.23 L54.33,506.16 L56.01,506.09 L57.7,506 L59.38,505.91 L61.06,505.81 L62.74,505.68 L64.43,505.54 L66.11,505.39 L67.79,505.2 L69.47,505 L71.16,504.77 L72.84,504.5 L74.52,504.21 L75.36,504.03 L76.2,503.82 L77.04,503.57 L77.89,503.29 L78.73,502.98 L79.57,502.66 L80.41,502.32 L81.25,501.98 L82.09,501.61 L82.93,501.21 L83.77,500.78 L84.62,500.33 L85.46,499.84 L86.3,499.33 L87.14,498.79 L87.98,498.22 L88.82,497.62 L89.66,496.97 L90.5,496.27 L91.34,495.54 L92.19,494.76 L93.03,493.95 L93.87,493.11 L94.71,492.24 L95.43,491.47 L96.14,490.66 L96.86,489.8 L97.57,488.91 L98.29,487.99 L99,487.04 L99.72,486.06 L100.43,485.06 L101.23,483.9 L102.03,482.69 L102.83,481.44 L103.63,480.15 L104.43,478.82 L105.23,477.46 L106.02,476.08 L106.82,474.68 L107.71,473.11 L108.59,471.51 L109.47,469.86 L110.36,468.18 L111.24,466.47 L112.12,464.72 L113.01,462.93 L113.89,461.12 L114.69,459.44 L115.49,457.72 L116.29,455.96 L117.09,454.17 L117.89,452.35 L118.69,450.51 L119.48,448.64 L120.28,446.75 L121.04,444.91 L121.8,442.99 L122.56,441.01 L123.31,439.03 L124.07,437.06 L124.83,435.14 L125.58,433.31 L126.34,431.59 L126.93,430.31 L127.52,429.05 L128.11,427.82 L128.7,426.63 L129.29,425.48 L129.87,424.39 L130.46,423.36 L131.05,422.41 L131.56,421.65 L132.06,420.91 L132.57,420.2 L133.07,419.52 L133.58,418.88 L134.08,418.28 L134.59,417.73 L135.09,417.23 L135.7,416.67 L136.32,416.15 L136.93,415.67 L137.55,415.22 L138.16,414.79 L138.77,414.39 L139.39,414.01 L140,413.64 L140.57,413.31 L141.13,412.98 L141.69,412.66 L142.26,412.36 L142.82,412.08 L143.38,411.82 L143.95,411.6 L144.51,411.4 L145.19,411.19 L145.86,410.98 L146.53,410.78 L147.2,410.6 L147.88,410.44 L148.55,410.31 L149.22,410.23 L149.9,410.21 L151.41,410.21 L152.92,410.21 L154.44,410.21 L155.95,410.21 L157.47,410.21 L158.98,410.21 L160.5,410.21 L162.01,410.21 L164.53,410.2 L167.06,410.2 L169.58,410.19 L172.11,410.18 L174.63,410.16 L177.15,410.15 L179.68,410.14 L182.2,410.13" fill="none" stroke="#6b2049" stroke-width="1.4" stroke-linejoin="round"/>
<path d="M47.6,506.44 L49.28,506.37 L50.97,506.3 L52.65,506.23 L54.33,506.16 L56.01,506.09 L57.7,506.01 L59.38,505.92 L61.06,505.81 L62.74,505.68 L64.43,505.52 L66.11,505.34 L67.79,505.13 L69.47,504.89 L71.16,504.62 L72.84,504.31 L74.52,503.97 L75.36,503.76 L76.2,503.5 L77.04,503.2 L77.89,502.86 L78.73,502.49 L79.57,502.09 L80.41,501.68 L81.25,501.26 L82.09,500.81 L82.93,500.33 L83.77,499.82 L84.62,499.26 L85.46,498.67 L86.3,498.03 L87.14,497.35 L87.98,496.63 L88.82,495.84 L89.66,494.97 L90.5,494.02 L91.34,493 L92.19,491.91 L93.03,490.75 L93.87,489.53 L94.71,488.25 L95.55,486.86 L96.39,485.31 L97.23,483.64 L98.08,481.86 L98.92,480.01 L99.76,478.12 L100.6,476.2 L101.44,474.28 L102.28,472.34 L103.12,470.33 L103.96,468.26 L104.81,466.15 L105.65,464 L106.49,461.84 L107.33,459.68 L108.17,457.53 L109.01,455.37 L109.85,453.18 L110.69,450.97 L111.54,448.75 L112.38,446.53 L113.22,444.32 L114.06,442.13 L114.9,439.97 L115.74,437.83 L116.58,435.69 L117.42,433.56 L118.27,431.44 L119.11,429.34 L119.95,427.27 L120.79,425.22 L121.63,423.21 L122.47,421.21 L123.31,419.18 L124.15,417.17 L125,415.18 L125.84,413.25 L126.68,411.41 L127.52,409.66 L128.36,408.05 L129.2,406.48 L130.04,404.89 L130.88,403.33 L131.73,401.85 L132.57,400.49 L133.41,399.31 L134.25,398.36 L135.09,397.68 L135.85,397.22 L136.6,396.8 L137.36,396.42 L138.12,396.08 L138.88,395.79 L139.63,395.56 L140.39,395.39 L141.15,395.28 L141.9,395.22 L142.66,395.15 L143.42,395.1 L144.18,395.05 L144.93,395.02 L145.69,394.99 L146.45,394.97 L147.2,394.96 L148.05,395.02 L148.89,395.17 L149.73,395.39 L150.57,395.66 L151.41,395.94 L152.25,396.22 L153.09,396.46 L153.93,396.64 L155.11,396.83 L156.29,397 L157.47,397.16 L158.65,397.31 L159.82,397.45 L161,397.58 L162.18,397.71 L163.36,397.84 L165.71,398.09 L168.07,398.33 L170.42,398.56 L172.78,398.79 L175.13,399.01 L177.49,399.23 L179.84,399.45 L182.2,399.67" fill="none" stroke="#4a1f37" stroke-width="1.4" stroke-linejoin="round"/>
<path d="M47.6,506.44 L49.28,506.37 L50.97,506.3 L52.65,506.23 L54.33,506.17 L56.01,506.09 L57.7,506.01 L59.38,505.92 L61.06,505.81 L62.74,505.67 L64.43,505.5 L66.11,505.31 L67.79,505.08 L69.47,504.81 L71.16,504.51 L72.84,504.18 L74.52,503.81 L75.36,503.59 L76.2,503.32 L77.04,503.01 L77.89,502.66 L78.73,502.28 L79.57,501.88 L80.41,501.45 L81.25,501.02 L82.09,500.56 L82.93,500.06 L83.77,499.53 L84.62,498.96 L85.46,498.34 L86.3,497.68 L87.14,496.98 L87.98,496.23 L88.82,495.41 L89.66,494.5 L90.5,493.5 L91.34,492.43 L92.19,491.28 L93.03,490.07 L93.87,488.79 L94.71,487.45 L95.55,486 L96.39,484.4 L97.23,482.67 L98.08,480.84 L98.92,478.94 L99.76,477 L100.6,475.04 L101.44,473.09 L102.28,471.12 L103.12,469.1 L103.96,467.03 L104.81,464.92 L105.65,462.78 L106.49,460.63 L107.33,458.48 L108.17,456.33 L109.01,454.17 L109.85,451.98 L110.69,449.77 L111.54,447.55 L112.38,445.33 L113.22,443.12 L114.06,440.94 L114.9,438.77 L115.74,436.63 L116.58,434.49 L117.42,432.36 L118.27,430.24 L119.11,428.14 L119.95,426.07 L120.79,424.03 L121.63,422.02 L122.47,420.01 L123.31,417.97 L124.15,415.94 L125,413.95 L125.84,412.01 L126.68,410.17 L127.52,408.44 L128.36,406.85 L129.2,405.36 L130.04,403.91 L130.88,402.52 L131.73,401.19 L132.57,399.95 L133.41,398.81 L134.25,397.78 L135.09,396.88 L135.68,396.3 L136.27,395.74 L136.86,395.21 L137.45,394.71 L138.03,394.26 L138.62,393.87 L139.21,393.54 L139.8,393.29 L140.31,393.11 L140.81,392.94 L141.32,392.77 L141.82,392.63 L142.32,392.51 L142.83,392.41 L143.33,392.35 L143.84,392.33 L144.43,392.4 L145.02,392.58 L145.61,392.85 L146.19,393.17 L146.78,393.5 L147.37,393.81 L147.96,394.07 L148.55,394.25 L149.39,394.41 L150.23,394.56 L151.07,394.69 L151.92,394.81 L152.76,394.91 L153.6,395 L154.44,395.07 L155.28,395.12 L156.96,395.2 L158.65,395.26 L160.33,395.31 L162.01,395.35 L163.69,395.39 L165.38,395.42 L167.06,395.47 L168.74,395.52 L170.42,395.59 L172.11,395.66 L173.79,395.74 L175.47,395.82 L177.15,395.91 L178.84,395.99 L180.52,396.08 L182.2,396.16" fill="none" stroke="#111111" stroke-width="1.4" stroke-linejoin="round"/>
<line x1="56.1" y1="380.6" x2="63.9" y2="380.6" stroke="#111111" stroke-width="2.4" />
<text x="66.8" y="383.75" font-size="9.8" fill="#333" >0.0% ara</text>
<line x1="56.1" y1="392.4" x2="63.9" y2="392.4" stroke="#4a1f37" stroke-width="2.4" />
<text x="66.8" y="395.55" font-size="9.8" fill="#333" >0.1% ara</text>
<line x1="56.1" y1="404.2" x2="63.9" y2="404.2" stroke="#6b2049" stroke-width="2.4" />
<text x="66.8" y="407.35" font-size="9.8" fill="#333" >0.3% ara</text>
<line x1="56.1" y1="416" x2="63.9" y2="416" stroke="#8c2259" stroke-width="2.4" />
<text x="66.8" y="419.15" font-size="9.8" fill="#333" >0.5% ara</text>
<line x1="56.1" y1="427.8" x2="63.9" y2="427.8" stroke="#b0286d" stroke-width="2.4" />
<text x="66.8" y="430.95" font-size="9.8" fill="#333" >1.0% ara</text>
<line x1="56.1" y1="439.6" x2="63.9" y2="439.6" stroke="#d2307f" stroke-width="2.4" />
<text x="66.8" y="442.75" font-size="9.8" fill="#333" >2.0% ara</text>
<line x1="241.9" y1="388" x2="241.9" y2="509.7" stroke="#222222" stroke-width="1.2" />
<line x1="241.3" y1="509.1" x2="377.5" y2="509.1" stroke="#222222" stroke-width="1.2" />
<line x1="241.9" y1="489" x2="244.7" y2="489" stroke="#222222" stroke-width="1.2" />
<line x1="241.9" y1="468.9" x2="244.7" y2="468.9" stroke="#222222" stroke-width="1.2" />
<line x1="241.9" y1="448.8" x2="244.7" y2="448.8" stroke="#222222" stroke-width="1.2" />
<line x1="241.9" y1="428.7" x2="244.7" y2="428.7" stroke="#222222" stroke-width="1.2" />
<line x1="241.9" y1="408.6" x2="244.7" y2="408.6" stroke="#222222" stroke-width="1.2" />
<line x1="241.9" y1="388.5" x2="244.7" y2="388.5" stroke="#222222" stroke-width="1.2" />
<line x1="275.65" y1="509.1" x2="275.65" y2="506.4" stroke="#222222" stroke-width="1.2" />
<line x1="309.4" y1="509.1" x2="309.4" y2="506.4" stroke="#222222" stroke-width="1.2" />
<line x1="343.15" y1="509.1" x2="343.15" y2="506.4" stroke="#222222" stroke-width="1.2" />
<line x1="376.9" y1="509.1" x2="376.9" y2="506.4" stroke="#222222" stroke-width="1.2" />
<text x="238.2" y="391.4" font-size="13.3" fill="#1a1a1a" text-anchor="end" >0.6</text>
<text x="238.2" y="431.8" font-size="13.3" fill="#1a1a1a" text-anchor="end" >0.4</text>
<text x="238.2" y="472.2" font-size="13.3" fill="#1a1a1a" text-anchor="end" >0.2</text>
<text x="238.2" y="515.4" font-size="13.3" fill="#1a1a1a" text-anchor="end" >0</text>
<text x="241.9" y="523.4" font-size="13.3" fill="#1a1a1a" text-anchor="middle" >0</text>
<text x="277.2" y="523.4" font-size="13.3" fill="#1a1a1a" text-anchor="middle" >0.5</text>
<text x="309.3" y="523.4" font-size="13.3" fill="#1a1a1a" text-anchor="middle" >1</text>
<text x="345.9" y="523.4" font-size="13.3" fill="#1a1a1a" text-anchor="middle" >1.5</text>
<text x="377.8" y="523.4" font-size="13.3" fill="#1a1a1a" text-anchor="middle" >2</text>
<text x="290.7" y="540.9" font-size="13.9" fill="#1a1a1a" >ara (%)</text>
<text transform="translate(213.4,447.3) rotate(-90)" font-size="14" fill="#1a1a1a" text-anchor="middle">Growth rate (h<tspan font-size="8.5" dy="-5">-1</tspan><tspan dy="5">)</tspan></text>
<path d="M241.9,425.6 C243.03,426.58 246.4,426.6 248.65,431.5 C250.9,436.4 253.15,446.87 255.4,455 C257.65,463.13 258.77,475.27 262.15,480.3 C265.52,485.33 270.59,482.83 275.65,485.2 C280.71,487.57 286.9,492.1 292.52,494.5 C298.15,496.9 300.96,498.08 309.4,499.6 C317.84,501.12 331.9,503.47 343.15,503.6 C354.4,503.73 371.27,500.93 376.9,500.4" fill="none" stroke="#111111" stroke-width="1.4" stroke-dasharray="2.6 2.2"/>
<path d="M241.9,424.1 C243.03,424.1 245.28,422.18 248.65,424.1 C252.03,426.02 257.65,431.92 262.15,435.6 C266.65,439.28 267.77,442.7 275.65,446.2 C283.52,449.7 292.52,453.07 309.4,456.6 C326.27,460.13 365.65,465.6 376.9,467.4" fill="none" stroke="#ef8a1d" stroke-width="1.4" stroke-dasharray="2.6 2.2"/>
<path d="M241.9,417.6 C243.03,419.65 245.28,421.9 248.65,429.9 C252.03,437.9 257.65,458.38 262.15,465.6 C266.65,472.82 267.77,470.55 275.65,473.2 C283.52,475.85 298.15,478.7 309.4,481.5 C320.65,484.3 331.9,486.48 343.15,490 C354.4,493.52 371.27,500.5 376.9,502.6" fill="none" stroke="#16a3dc" stroke-width="1.4" stroke-dasharray="2.6 2.2"/>
<circle cx="241.9" cy="425.6" r="2.6" fill="#9a9a9a" stroke="#111111" stroke-width="1.8" />
<circle cx="262.15" cy="480.3" r="2.6" fill="#9a9a9a" stroke="#111111" stroke-width="1.8" />
<circle cx="275.65" cy="484.3" r="2.6" fill="#9a9a9a" stroke="#111111" stroke-width="1.8" />
<circle cx="309.4" cy="499.8" r="2.6" fill="#9a9a9a" stroke="#111111" stroke-width="1.8" />
<circle cx="376.9" cy="500.4" r="2.6" fill="#9a9a9a" stroke="#111111" stroke-width="1.8" />
<circle cx="241.9" cy="424.1" r="3.7" fill="#ef8a1d" stroke="none" stroke-width="0" />
<rect x="241.3" y="421.9" width="1.2" height="4.4" fill="#8a4a10" opacity="0.6"/>
<circle cx="248.65" cy="424.1" r="3.7" fill="#ef8a1d" stroke="none" stroke-width="0" />
<rect x="248.05" y="421.9" width="1.2" height="4.4" fill="#8a4a10" opacity="0.6"/>
<circle cx="262.15" cy="435.6" r="3.7" fill="#ef8a1d" stroke="none" stroke-width="0" />
<rect x="261.55" y="433.4" width="1.2" height="4.4" fill="#8a4a10" opacity="0.6"/>
<circle cx="275.65" cy="446.3" r="3.7" fill="#ef8a1d" stroke="none" stroke-width="0" />
<rect x="275.05" y="444.1" width="1.2" height="4.4" fill="#8a4a10" opacity="0.6"/>
<circle cx="309.4" cy="456.6" r="3.7" fill="#ef8a1d" stroke="none" stroke-width="0" />
<rect x="308.8" y="454.4" width="1.2" height="4.4" fill="#8a4a10" opacity="0.6"/>
<circle cx="376.9" cy="467.4" r="3.7" fill="#ef8a1d" stroke="none" stroke-width="0" />
<rect x="376.3" y="465.2" width="1.2" height="4.4" fill="#8a4a10" opacity="0.6"/>
<circle cx="241.9" cy="417.6" r="3.7" fill="#16a3dc" stroke="none" stroke-width="0" />
<rect x="241.3" y="415.4" width="1.2" height="4.4" fill="#0a6a9a" opacity="0.45"/>
<circle cx="248.65" cy="429.9" r="3.7" fill="#16a3dc" stroke="none" stroke-width="0" />
<rect x="248.05" y="427.7" width="1.2" height="4.4" fill="#0a6a9a" opacity="0.45"/>
<circle cx="262.15" cy="465.7" r="3.7" fill="#16a3dc" stroke="none" stroke-width="0" />
<rect x="261.55" y="463.5" width="1.2" height="4.4" fill="#0a6a9a" opacity="0.45"/>
<circle cx="275.65" cy="473.3" r="3.7" fill="#16a3dc" stroke="none" stroke-width="0" />
<rect x="275.05" y="471.1" width="1.2" height="4.4" fill="#0a6a9a" opacity="0.45"/>
<circle cx="309.4" cy="481.6" r="3.7" fill="#16a3dc" stroke="none" stroke-width="0" />
<rect x="308.8" y="479.4" width="1.2" height="4.4" fill="#0a6a9a" opacity="0.45"/>
<circle cx="376.9" cy="502.6" r="3.7" fill="#16a3dc" stroke="none" stroke-width="0" />
<rect x="376.3" y="500.4" width="1.2" height="4.4" fill="#0a6a9a" opacity="0.45"/>
<circle cx="298.3" cy="389.9" r="2.1" fill="#111111" stroke="none" stroke-width="0" />
<circle cx="298.3" cy="402.8" r="2.3" fill="#16a3dc" stroke="none" stroke-width="0" />
<circle cx="298.1" cy="416.2" r="2.8" fill="#ef8a1d" stroke="none" stroke-width="0" />
<text x="304.9" y="391.3" font-size="11.2" fill="#1a1a1a" >Base strain</text>
<text x="304.9" y="404.8" font-size="11.2" fill="#1a1a1a">&#916;<tspan font-style="italic">cra</tspan> strain</text>
<text x="305.2" y="418.3" font-size="11.2" fill="#1a1a1a" >pBAD-Cra strain</text>
<line x1="444" y1="388.3" x2="444" y2="509.4" stroke="#222222" stroke-width="1.2" />
<line x1="443.4" y1="508.8" x2="579.2" y2="508.8" stroke="#222222" stroke-width="1.2" />
<line x1="444" y1="488.8" x2="446.8" y2="488.8" stroke="#222222" stroke-width="1.2" />
<line x1="444" y1="468.8" x2="446.8" y2="468.8" stroke="#222222" stroke-width="1.2" />
<line x1="444" y1="448.8" x2="446.8" y2="448.8" stroke="#222222" stroke-width="1.2" />
<line x1="444" y1="428.8" x2="446.8" y2="428.8" stroke="#222222" stroke-width="1.2" />
<line x1="444" y1="408.8" x2="446.8" y2="408.8" stroke="#222222" stroke-width="1.2" />
<line x1="444" y1="388.8" x2="446.8" y2="388.8" stroke="#222222" stroke-width="1.2" />
<line x1="477.75" y1="508.8" x2="477.75" y2="506.1" stroke="#222222" stroke-width="1.2" />
<line x1="511.5" y1="508.8" x2="511.5" y2="506.1" stroke="#222222" stroke-width="1.2" />
<line x1="545.25" y1="508.8" x2="545.25" y2="506.1" stroke="#222222" stroke-width="1.2" />
<line x1="579" y1="508.8" x2="579" y2="506.1" stroke="#222222" stroke-width="1.2" />
<text x="440.6" y="394.9" font-size="13.3" fill="#1a1a1a" text-anchor="end" >60</text>
<text x="440.6" y="437.4" font-size="13.3" fill="#1a1a1a" text-anchor="end" >40</text>
<text x="440.6" y="475.9" font-size="13.3" fill="#1a1a1a" text-anchor="end" >20</text>
<text x="438.6" y="514.3" font-size="13.3" fill="#1a1a1a" text-anchor="end" >0</text>
<text x="446.2" y="523" font-size="13.3" fill="#1a1a1a" text-anchor="middle" >0</text>
<text x="479.7" y="523" font-size="13.3" fill="#1a1a1a" text-anchor="middle" >0.5</text>
<text x="512.5" y="523" font-size="13.3" fill="#1a1a1a" text-anchor="middle" >1</text>
<text x="547.7" y="523" font-size="13.3" fill="#1a1a1a" text-anchor="middle" >1.5</text>
<text x="580" y="523" font-size="13.3" fill="#1a1a1a" text-anchor="middle" >2</text>
<text x="493.9" y="540.5" font-size="13.9" fill="#1a1a1a" >ara (%)</text>
<text transform="translate(415.6,446.9) rotate(-90)" font-size="14" fill="#1a1a1a" text-anchor="middle">Glycerol (mM)</text>
<path d="M444,504 L444.52,502.24 L445.04,500.45 L445.55,498.67 L446.08,496.9 L446.62,495.18 L447.2,493.5 L447.76,492 L448.33,490.51 L448.93,489.05 L449.54,487.63 L450.16,486.28 L450.8,485 L451.33,483.97 L451.87,482.95 L452.41,481.97 L452.98,481.07 L453.57,480.27 L454.2,479.6 L454.7,479.18 L455.23,478.79 L455.76,478.47 L456.31,478.22 L456.86,478.06 L457.4,478 L457.94,478.06 L458.48,478.24 L459.03,478.51 L459.56,478.84 L460.09,479.21 L460.6,479.6 L461.15,480.09 L461.66,480.66 L462.15,481.28 L462.65,481.94 L463.19,482.62 L463.8,483.3 L464.75,484.27 L465.81,485.31 L466.94,486.39 L468.12,487.47 L469.32,488.52 L470.5,489.5 L471.61,490.39 L472.68,491.24 L473.77,492.06 L474.93,492.86 L476.19,493.63 L477.6,494.4 L479.97,495.51 L482.67,496.6 L485.59,497.66 L488.63,498.65 L491.68,499.54 L494.62,500.3 L497.35,500.9 L500.01,501.38 L502.67,501.77 L505.43,502.08 L508.34,502.35 L511.5,502.6 L516.45,502.88 L521.88,503.05 L527.65,503.13 L533.57,503.14 L539.49,503.09 L545.25,503 L550.88,502.85 L556.5,502.61 L562.13,502.33 L567.75,502.01 L573.38,501.69 L579,501.4" fill="none" stroke="#111111" stroke-width="1.4" stroke-dasharray="2.6 2.2"/>
<path d="M444,505 C445.12,503.13 447.38,500.35 450.75,493.8 C454.12,487.25 459.75,474.58 464.25,465.7 C468.75,456.82 469.88,448.42 477.75,440.5 C485.62,432.58 500.25,420.28 511.5,418.2 C522.75,416.12 534,422.45 545.25,428 C556.5,433.55 573.38,447.58 579,451.5" fill="none" stroke="#ef8a1d" stroke-width="1.4" stroke-dasharray="2.6 2.2"/>
<path d="M444,504 C445.12,498.25 447.38,477.87 450.75,469.5 C454.12,461.13 459.75,453.8 464.25,453.8 C468.75,453.8 469.88,465.53 477.75,469.5 C485.62,473.47 494.62,473.22 511.5,477.6 C528.38,481.98 567.75,492.77 579,495.8" fill="none" stroke="#16a3dc" stroke-width="1.4" stroke-dasharray="2.6 2.2"/>
<circle cx="450.75" cy="474" r="3.5" fill="#111111" stroke="none" stroke-width="0" />
<path d="M449.95,472.2 h1.6 M450.75,472.2 v3.6 M449.95,475.8 h1.6" stroke="#bdbdbd" stroke-width="0.8" fill="none"/>
<circle cx="464.25" cy="483.4" r="3.5" fill="#111111" stroke="none" stroke-width="0" />
<path d="M463.45,481.6 h1.6 M464.25,481.6 v3.6 M463.45,485.2 h1.6" stroke="#bdbdbd" stroke-width="0.8" fill="none"/>
<circle cx="477.75" cy="494.4" r="3.5" fill="#111111" stroke="none" stroke-width="0" />
<path d="M476.95,492.6 h1.6 M477.75,492.6 v3.6 M476.95,496.2 h1.6" stroke="#bdbdbd" stroke-width="0.8" fill="none"/>
<circle cx="511.5" cy="502.8" r="3.5" fill="#111111" stroke="none" stroke-width="0" />
<path d="M510.7,501 h1.6 M511.5,501 v3.6 M510.7,504.6 h1.6" stroke="#bdbdbd" stroke-width="0.8" fill="none"/>
<circle cx="579" cy="501.3" r="3.5" fill="#111111" stroke="none" stroke-width="0" />
<path d="M578.2,499.5 h1.6 M579,499.5 v3.6 M578.2,503.1 h1.6" stroke="#bdbdbd" stroke-width="0.8" fill="none"/>
<circle cx="444" cy="505.2" r="3.7" fill="#ef8a1d" stroke="none" stroke-width="0" />
<rect x="443.4" y="503" width="1.2" height="4.4" fill="#8a4a10" opacity="0.6"/>
<circle cx="450.75" cy="493.8" r="3.7" fill="#ef8a1d" stroke="none" stroke-width="0" />
<rect x="450.15" y="491.6" width="1.2" height="4.4" fill="#8a4a10" opacity="0.6"/>
<circle cx="464.25" cy="465.7" r="3.7" fill="#ef8a1d" stroke="none" stroke-width="0" />
<rect x="463.65" y="463.5" width="1.2" height="4.4" fill="#8a4a10" opacity="0.6"/>
<circle cx="477.75" cy="440.6" r="3.7" fill="#ef8a1d" stroke="none" stroke-width="0" />
<rect x="477.15" y="438.4" width="1.2" height="4.4" fill="#8a4a10" opacity="0.6"/>
<circle cx="511.5" cy="418.2" r="3.7" fill="#ef8a1d" stroke="none" stroke-width="0" />
<rect x="510.9" y="416" width="1.2" height="4.4" fill="#8a4a10" opacity="0.6"/>
<circle cx="579" cy="451.5" r="3.7" fill="#ef8a1d" stroke="none" stroke-width="0" />
<rect x="578.4" y="449.3" width="1.2" height="4.4" fill="#8a4a10" opacity="0.6"/>
<circle cx="444" cy="504" r="3.7" fill="#16a3dc" stroke="none" stroke-width="0" />
<rect x="443.4" y="501.8" width="1.2" height="4.4" fill="#0a6a9a" opacity="0.45"/>
<circle cx="450.75" cy="469.5" r="3.7" fill="#16a3dc" stroke="none" stroke-width="0" />
<rect x="450.15" y="467.3" width="1.2" height="4.4" fill="#0a6a9a" opacity="0.45"/>
<circle cx="464.25" cy="453.7" r="3.7" fill="#16a3dc" stroke="none" stroke-width="0" />
<rect x="463.65" y="451.5" width="1.2" height="4.4" fill="#0a6a9a" opacity="0.45"/>
<circle cx="477.75" cy="469.5" r="3.7" fill="#16a3dc" stroke="none" stroke-width="0" />
<rect x="477.15" y="467.3" width="1.2" height="4.4" fill="#0a6a9a" opacity="0.45"/>
<circle cx="511.5" cy="477.6" r="3.7" fill="#16a3dc" stroke="none" stroke-width="0" />
<rect x="510.9" y="475.4" width="1.2" height="4.4" fill="#0a6a9a" opacity="0.45"/>
<circle cx="579" cy="495.8" r="3.7" fill="#16a3dc" stroke="none" stroke-width="0" />
<rect x="578.4" y="493.6" width="1.2" height="4.4" fill="#0a6a9a" opacity="0.45"/>
<line x1="644.6" y1="389.3" x2="644.6" y2="508.3" stroke="#333333" stroke-width="1.2" />
<line x1="644" y1="507.7" x2="792.8" y2="507.7" stroke="#333333" stroke-width="1.2" />
<line x1="644.6" y1="490.57" x2="647.3" y2="490.57" stroke="#333333" stroke-width="1" />
<line x1="644.6" y1="473.74" x2="647.3" y2="473.74" stroke="#333333" stroke-width="1" />
<line x1="644.6" y1="456.91" x2="647.3" y2="456.91" stroke="#333333" stroke-width="1" />
<line x1="644.6" y1="440.08" x2="647.3" y2="440.08" stroke="#333333" stroke-width="1" />
<line x1="644.6" y1="423.25" x2="647.3" y2="423.25" stroke="#333333" stroke-width="1" />
<line x1="644.6" y1="406.42" x2="647.3" y2="406.42" stroke="#333333" stroke-width="1" />
<line x1="665.72" y1="507.7" x2="665.72" y2="505.2" stroke="#333333" stroke-width="1" />
<line x1="686.84" y1="507.7" x2="686.84" y2="505.2" stroke="#333333" stroke-width="1" />
<line x1="707.96" y1="507.7" x2="707.96" y2="505.2" stroke="#333333" stroke-width="1" />
<line x1="729.08" y1="507.7" x2="729.08" y2="505.2" stroke="#333333" stroke-width="1" />
<line x1="750.2" y1="507.7" x2="750.2" y2="505.2" stroke="#333333" stroke-width="1" />
<line x1="771.32" y1="507.7" x2="771.32" y2="505.2" stroke="#333333" stroke-width="1" />
<line x1="644.8" y1="389.6" x2="792.2" y2="507.9" stroke="#4a4a4a" stroke-width="1.6" />
<text x="639.4" y="412.3" font-size="13.3" fill="#1a1a1a" text-anchor="end" >0.6</text>
<text x="639.4" y="446.3" font-size="13.3" fill="#1a1a1a" text-anchor="end" >0.4</text>
<text x="639.4" y="480.2" font-size="13.3" fill="#1a1a1a" text-anchor="end" >0.2</text>
<text x="639.4" y="512.9" font-size="13.3" fill="#1a1a1a" text-anchor="end" >0</text>
<text x="644.5" y="521.4" font-size="13.3" fill="#1a1a1a" text-anchor="middle" >0</text>
<text x="665.5" y="521.4" font-size="13.3" fill="#1a1a1a" text-anchor="middle" >2</text>
<text x="686" y="521.4" font-size="13.3" fill="#1a1a1a" text-anchor="middle" >4</text>
<text x="706.5" y="521.4" font-size="13.3" fill="#1a1a1a" text-anchor="middle" >6</text>
<text x="727.5" y="521.4" font-size="13.3" fill="#1a1a1a" text-anchor="middle" >8</text>
<text x="748.6" y="521.4" font-size="13.3" fill="#1a1a1a" text-anchor="middle" >10</text>
<text x="769.5" y="521.4" font-size="13.3" fill="#1a1a1a" text-anchor="middle" >12</text>
<text x="790.6" y="521.4" font-size="13.3" fill="#1a1a1a" text-anchor="middle" >14</text>
<text x="645" y="536.3" font-size="14" fill="#1a1a1a" >Glycerol production rate</text>
<text x="680.2" y="550.8" font-size="14" fill="#1a1a1a">(mmol g<tspan font-size="8.5" dy="-5">-1</tspan><tspan dy="5">h</tspan><tspan font-size="8.5" dy="-5">-1</tspan><tspan dy="5">)</tspan></text>
<text transform="translate(616.6,451.3) rotate(-90)" font-size="14" fill="#1a1a1a" text-anchor="middle">Growth rate (h<tspan font-size="8.5" dy="-5">-1</tspan><tspan dy="5">)</tspan></text>
<ellipse cx="647.0" cy="423.0" rx="3.3" ry="4.3" fill="none" stroke="#333" stroke-width="0.8"/>
<ellipse cx="653.7" cy="428.3" rx="3.6" ry="6.4" transform="rotate(-8 653.7 428.3)" fill="none" stroke="#333" stroke-width="0.8"/>
<ellipse cx="761.3" cy="452.9" rx="13.3" ry="5.8" fill="none" stroke="#333" stroke-width="0.8"/>
<circle cx="647.2" cy="422" r="2.7" fill="#e0531a" stroke="none" stroke-width="0" />
<circle cx="647.6" cy="423.8" r="2.7" fill="#e0531a" stroke="none" stroke-width="0" />
<circle cx="653.6" cy="425.4" r="2.7" fill="#e0531a" stroke="none" stroke-width="0" />
<circle cx="653.2" cy="427.8" r="2.7" fill="#e0531a" stroke="none" stroke-width="0" />
<circle cx="652.7" cy="430.2" r="2.7" fill="#e0531a" stroke="none" stroke-width="0" />
<circle cx="753.4" cy="451.5" r="2.6" fill="#e0531a" stroke="none" stroke-width="0" />
<circle cx="757.4" cy="449.8" r="2.6" fill="#e0531a" stroke="none" stroke-width="0" />
<circle cx="766.1" cy="452.8" r="2.6" fill="#e0531a" stroke="none" stroke-width="0" />
<text x="645.6" y="417.7" font-size="11.4" fill="#333" >0%</text>
<text x="657.6" y="438" font-size="11.4" fill="#333" >0.1%</text>
<text x="748.3" y="443.8" font-size="11.4" fill="#333" >0.5%</text>
</svg>
</body></html>
